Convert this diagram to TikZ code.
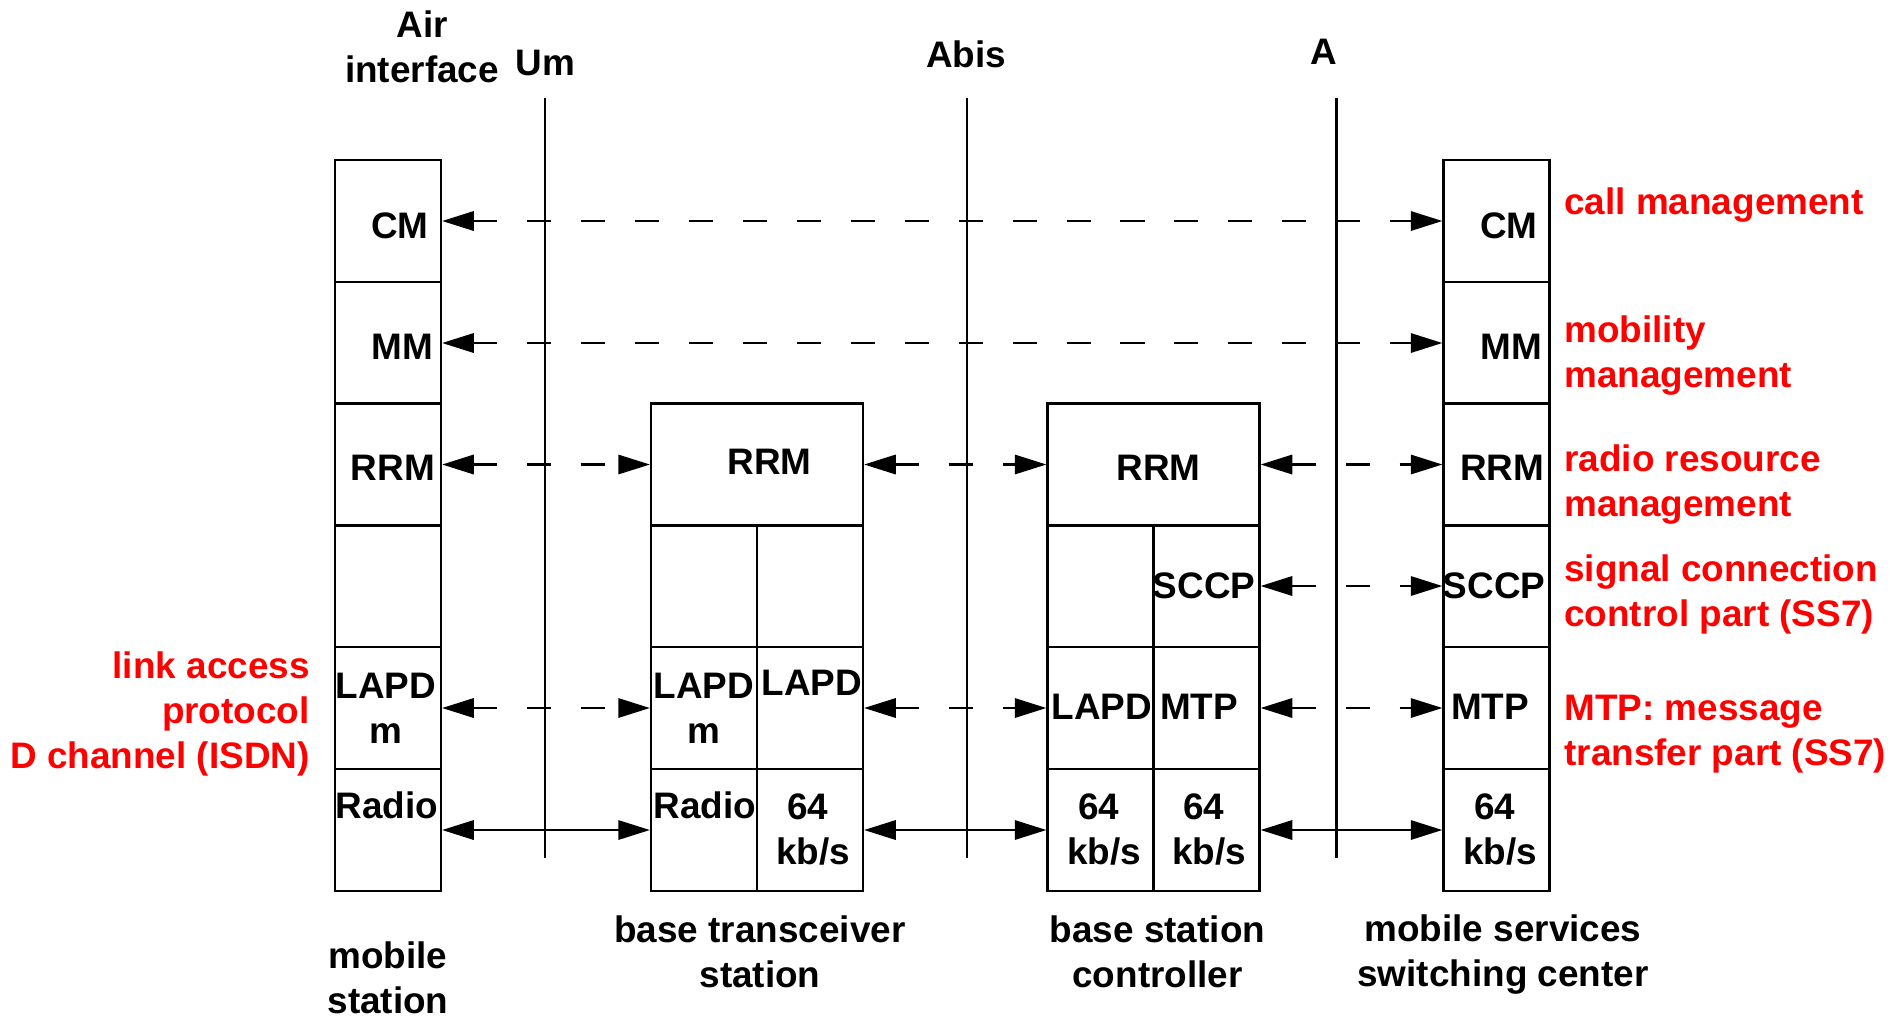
\documentclass[tikz,border=0pt]{standalone}
\usepackage{fontspec}
\setmainfont{Liberation Sans}
\usetikzlibrary{arrows.meta, positioning}

\begin{document}
\begin{tikzpicture}[
  x=0.02cm, y=-0.02cm,
  font=\fontsize{21}{25.6}\selectfont\bfseries,
  cell/.style={draw, line width=1.3pt, minimum width=2.12cm, minimum height=2.436cm, inner sep=0pt},
  wcell/.style={cell, minimum width=4.24cm},
  lbl/.style={inner sep=0pt, align=center},
  note/.style={inner sep=0pt, text=red},
  iface/.style={line width=1.3pt},
  peer/.style={line width=1.3pt, dash pattern=on 13.7pt off 17pt, {Triangle[length=18pt,width=11pt]}-{Triangle[length=18pt,width=11pt]}},
  phys/.style={line width=1.3pt, {Triangle[length=18pt,width=11pt]}-{Triangle[length=18pt,width=11pt]}}
]
  \useasboundingbox (0,0) rectangle (1895,1019);

  \node[lbl, anchor=north] (air) at (422,10.9) {Air\\interface};
  \node[lbl, anchor=north] (um) at (545.5,49.6) {Um};
  \node[lbl, anchor=north] (abis) at (966,40.3) {Abis};
  \node[lbl, anchor=north] (a-if) at (1324,38.6) {A};
  \draw[iface] (545,98) -- (545,858);
  \draw[iface] (967,98) -- (967,858);
  \draw[iface] (1336.5,98) -- (1336.5,858);

  \node[cell] (ms-cm) at (388,221) {};
  \node[cell] (ms-mm) at (388,343) {};
  \node[cell] (ms-rrm) at (388,464.5) {};
  \node[cell] (ms-free) at (388,586) {};
  \node[cell] (ms-lapd) at (388,708) {};
  \node[cell] (ms-radio) at (388,830) {};
  \node[lbl] (ms-cm-t) at (400,226) {CM};
  \node[lbl] (ms-mm-t) at (402,347) {MM};
  \node[lbl] (ms-rrm-t) at (393,468) {RRM};
  \node[lbl] (ms-lapd-t) at (386,708) {LAPD\\m};
  \node[lbl] (ms-radio-t) at (387,805) {Radio};

  \node[wcell] (bts-rrm) at (757,464.5) {};
  \node[cell] (bts-free1) at (704,586) {};
  \node[cell] (bts-free2) at (810,586) {};
  \node[cell] (bts-lapdm) at (704,708) {};
  \node[cell] (bts-lapd) at (810,708) {};
  \node[cell] (bts-radio) at (704,830) {};
  \node[cell] (bts-64) at (810,830) {};
  \node[lbl] (bts-rrm-t) at (769.5,462) {RRM};
  \node[lbl] (bts-lapdm-t) at (704,708) {LAPD\\m};
  \node[lbl] (bts-lapd-t) at (812,683) {LAPD};
  \node[lbl] (bts-radio-t) at (705,805) {Radio};
  \node[lbl] (bts-64-t) at (813,829) {64\hspace*{5.8pt}\\kb/s};

  \node[wcell] (bsc-rrm) at (1153.5,464.5) {};
  \node[cell] (bsc-free) at (1100.5,586) {};
  \node[cell] (bsc-sccp) at (1206.5,586) {};
  \node[cell] (bsc-lapd) at (1100.5,708) {};
  \node[cell] (bsc-mtp) at (1206.5,708) {};
  \node[cell] (bsc-64a) at (1100.5,830) {};
  \node[cell] (bsc-64b) at (1206.5,830) {};
  \node[lbl] (bsc-rrm-t) at (1158.5,468) {RRM};
  \node[lbl] (bsc-sccp-t) at (1204,586) {SCCP};
  \node[lbl] (bsc-lapd-t) at (1102,707) {LAPD};
  \node[lbl] (bsc-mtp-t) at (1199,707) {MTP};
  \node[lbl] (bsc-64a-t) at (1104,829) {64\hspace*{5.8pt}\\kb/s};
  \node[lbl] (bsc-64b-t) at (1209,829) {64\hspace*{5.8pt}\\kb/s};

  \node[cell] (msc-cm) at (1496.5,221) {};
  \node[cell] (msc-mm) at (1496.5,343) {};
  \node[cell] (msc-rrm) at (1496.5,464.5) {};
  \node[cell] (msc-sccp) at (1496.5,586) {};
  \node[cell] (msc-mtp) at (1496.5,708) {};
  \node[cell] (msc-64) at (1496.5,830) {};
  \node[lbl] (msc-cm-t) at (1509,226) {CM};
  \node[lbl] (msc-mm-t) at (1511.5,347) {MM};
  \node[lbl] (msc-rrm-t) at (1502,468) {RRM};
  \node[lbl] (msc-sccp-t) at (1494,586) {SCCP};
  \node[lbl] (msc-mtp-t) at (1490,707) {MTP};
  \node[lbl] (msc-64-t) at (1500,829) {64\hspace*{5.8pt}\\kb/s};

  \draw[peer] (ms-cm.east) -- (msc-cm.west);
  \draw[peer] (ms-mm.east) -- (msc-mm.west);
  \draw[peer] (ms-rrm.east) -- (bts-rrm.west);
  \draw[peer] (bts-rrm.east) -- (bsc-rrm.west);
  \draw[peer] (bsc-rrm.east) -- (msc-rrm.west);
  \draw[peer] (bsc-sccp.east) -- (msc-sccp.west);
  \draw[peer] (ms-lapd.east) -- (bts-lapdm.west);
  \draw[peer] (bts-lapd.east) -- (bsc-lapd.west);
  \draw[peer] (bsc-mtp.east) -- (msc-mtp.west);
  \draw[phys] (ms-radio.east) -- (bts-radio.west);
  \draw[phys] (bts-64.east) -- (bsc-64a.west);
  \draw[phys] (bsc-64b.east) -- (msc-64.west);

  \node[note, align=right, anchor=north east] (lapd-note) at (310,651.6) {link access\\protocol\hspace*{5.8pt}\\D channel (ISDN)};
  \node[note, align=left, anchor=north west] (cm-note) at (1564,187.6) {call management};
  \node[note, align=left, anchor=north west] (mm-note) at (1564,315.6) {mobility\\management};
  \node[note, align=left, anchor=north west] (rrm-note) at (1564,444) {radio resource\\management};
  \node[note, align=left, anchor=north west] (sccp-note) at (1564,554) {signal connection\\control part (SS7)};
  \node[note, align=left, anchor=north west] (mtp-note) at (1564,695) {MTP: message\\transfer part (SS7)};

  \node[lbl, anchor=north] (ms-name) at (388,941) {mobile\\station};
  \node[lbl, anchor=north] (bts-name) at (760,915.3) {base transceiver\\station};
  \node[lbl, anchor=north] (bsc-name) at (1157.5,915.3) {base station\\controller};
  \node[lbl, anchor=north] (msc-name) at (1503,914.3) {mobile services\\switching center};
\end{tikzpicture}
\end{document}
